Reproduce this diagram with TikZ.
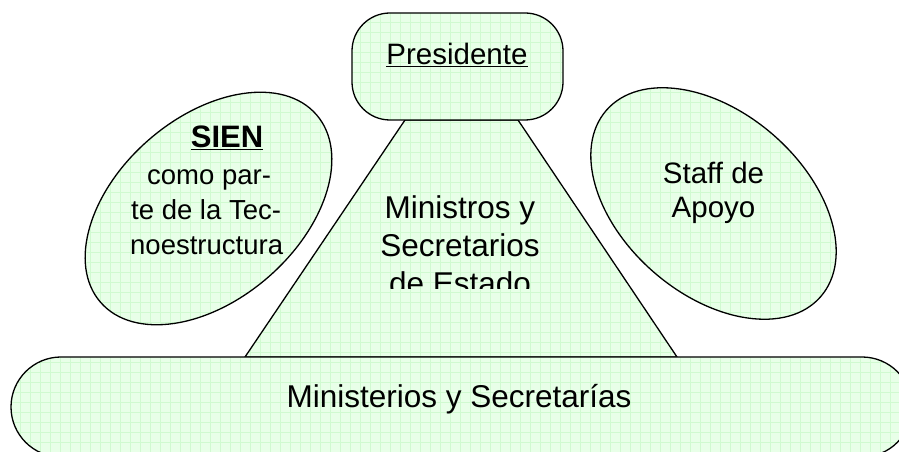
\documentclass[tikz,border=0pt]{standalone}
\usepackage{fontspec}
\setmainfont{Liberation Sans}
\definecolor{lgreen}{RGB}{232,255,232}
\definecolor{gline}{RGB}{208,250,208}
\begin{document}
\begin{tikzpicture}[x=1pt,y=1pt,
  shp/.style={draw=black, line width=1.3pt,
    path picture={\fill[lgreen] (path picture bounding box.south west) rectangle (path picture bounding box.north east);
      \draw[gline, line width=0.45pt, step=10pt] (path picture bounding box.south west) grid (path picture bounding box.north east);}},
  big/.style={font=\fontsize{31.5}{36}\selectfont, inner sep=0pt},
  mid/.style={font=\fontsize{29.5}{34}\selectfont, inner sep=0pt},
  sml/.style={font=\fontsize{27.5}{32}\selectfont, inner sep=0pt}]
\useasboundingbox (0,0) rectangle (899,452);
\clip (0,0) rectangle (899,452);
% pyramid (trapezoid)
\path[shp] (405,332) coordinate (tl) -- (518,332) coordinate (tr) -- (677,95) coordinate (br) -- (245,95) coordinate (bl) -- cycle;
% president box
\path[shp, rounded corners=38pt] (352,439) rectangle (563,332);
% bottom bar
\path[shp, rounded corners=50pt] (11,95) rectangle (912,-5);
% ellipses
\path[shp] (208.5,243.5) ellipse [x radius=143, y radius=91, rotate=41];
\path[shp] (713.5,248.5) ellipse [x radius=142, y radius=91, rotate=-41];
% texts
\node[mid, anchor=base] (pres) at (457,387) {\underline{Presidente}};
\node[big, anchor=base, font=\fontsize{31}{36}\selectfont\bfseries] (sien) at (227,304) {\underline{SIEN}};
\node[sml, anchor=base west] (s1) at (147,267) {como par-};
\node[sml, anchor=base west] (s2) at (131,232) {te de la Tec-};
\node[sml, anchor=base west] (s3) at (130,197) {noestructura};
\node[mid, anchor=base] (st1) at (713.5,268) {Staff de};
\node[mid, anchor=base] (st2) at (713.5,234) {Apoyo};
\begin{scope}
\clip (0,163) rectangle (899,452);
\node[big, anchor=base] (m1) at (460,233) {Ministros y};
\node[big, anchor=base] (m2) at (460,195) {Secretarios};
\node[big, anchor=base] (m3) at (460,157) {de Estado};
\end{scope}
\node[big, anchor=base] (bot) at (459,44) {Ministerios y Secretarías};
\end{tikzpicture}
\end{document}
